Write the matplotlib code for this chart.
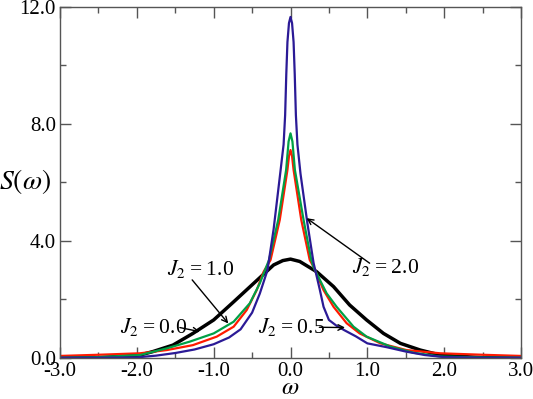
import matplotlib
matplotlib.use("Agg")
import matplotlib.pyplot as plt
from matplotlib.ticker import MultipleLocator, FormatStrFormatter

plt.rcParams['font.family'] = ['Liberation Serif', 'DejaVu Serif']
plt.rcParams['mathtext.fontset'] = 'stix'

# J2 = 0.0 (black, noisy)
w_j00 = [-3.0, -2.5, -1.96, -1.79, -1.53, -1.27, -1.0, -0.74, -0.48, -0.22, -0.1, 0.0,
         0.12, 0.34, 0.56, 0.77, 0.99, 1.21, 1.43, 1.69, 1.95, 2.5, 3.0]
s_j00 = [0.0, 0.01, 0.1, 0.22, 0.44, 0.84, 1.30, 1.92, 2.55, 3.18, 3.33, 3.38,
         3.30, 2.95, 2.44, 1.81, 1.30, 0.84, 0.50, 0.27, 0.1, 0.01, 0.0]

# J2 = 0.5 (red)
w_j05 = [-3.0, -2.5, -1.96, -1.61, -1.27, -0.96, -0.74, -0.57, -0.44, -0.35, -0.26, -0.14, -0.1,
         -0.04, -0.02, 0.0, 0.02, 0.04, 0.1, 0.14, 0.25, 0.3, 0.43, 0.56, 0.73, 0.90, 1.17,
         1.51, 1.95, 2.5, 3.0]
s_j05 = [0.07, 0.11, 0.16, 0.27, 0.44, 0.73, 1.07, 1.64, 2.32, 2.95, 3.35, 4.72, 5.4,
         6.43, 6.9, 7.11, 6.9, 6.43, 5.4, 4.72, 3.35, 3.12, 2.32, 1.75, 1.19, 0.84, 0.50,
         0.27, 0.16, 0.11, 0.07]

# J2 = 1.0 (green)
w_j10 = [-3.0, -2.5, -1.96, -1.61, -1.31, -1.0, -0.74, -0.53, -0.40, -0.28, -0.16, -0.057,
         -0.025, 0.0, 0.025, 0.057, 0.17, 0.27, 0.3, 0.47, 0.60, 0.82, 0.99, 1.30, 1.60,
         1.95, 2.5, 3.0]
s_j10 = [0.01, 0.03, 0.1, 0.33, 0.56, 0.84, 1.24, 1.87, 2.55, 3.35, 4.72, 6.43,
         7.4, 7.68, 7.4, 6.43, 4.72, 3.35, 3.1, 2.21, 1.75, 1.07, 0.73, 0.39, 0.18,
         0.05, 0.02, 0.01]

# J2 = 2.0 (blue)
w_j20 = [-3.0, -2.5, -2.0, -1.75, -1.5, -1.25, -1.0, -0.8, -0.65, -0.5, -0.4, -0.3, -0.22,
         -0.13, -0.09, -0.07, -0.055, -0.04, -0.02, 0.0, 0.02, 0.04, 0.055, 0.07, 0.09,
         0.13, 0.22, 0.3, 0.38, 0.43, 0.5, 0.6, 0.7, 0.85, 1.0, 1.25, 1.5, 1.75, 2.0, 2.5, 3.0]
s_j20 = [0.01, 0.01, 0.02, 0.08, 0.17, 0.29, 0.47, 0.70, 0.98, 1.55, 2.2, 3.0, 4.4,
         6.4, 7.3, 8.3, 9.7, 10.8, 11.45, 11.66, 11.45, 10.8, 9.7, 8.3, 7.3,
         6.3, 4.6, 3.25, 2.35, 1.75, 1.3, 1.1, 0.95, 0.74, 0.5, 0.37, 0.22, 0.1, 0.03, 0.01, 0.01]

x_ticks = [-3.0, -2.0, -1.0, 0.0, 1.0, 2.0, 3.0]
y_ticks = [0.0, 4.0, 8.0, 12.0]

fig = plt.figure(figsize=(5.33, 3.99), dpi=100)
ax = fig.add_axes([0.1126, 0.1028, 0.8649, 0.8797])

ax.plot(w_j00, s_j00, color='black', lw=2.5, solid_joinstyle='round')
ax.plot(w_j05, s_j05, color='#ff1a00', lw=1.6)
ax.plot(w_j10, s_j10, color='#00a046', lw=1.6)
ax.plot(w_j20, s_j20, color='#2b1a96', lw=1.6)

ax.set_xlim(-3.0, 3.0)
ax.set_ylim(0.0, 12.0)
ax.set_xticks(x_ticks)
ax.set_yticks(y_ticks)
ax.xaxis.set_minor_locator(MultipleLocator(0.5))
ax.yaxis.set_minor_locator(MultipleLocator(2.0))
ax.xaxis.set_major_formatter(FormatStrFormatter('%.1f'))
ax.yaxis.set_major_formatter(FormatStrFormatter('%.1f'))

axcol = '#555555'
for sp in ax.spines.values():
    sp.set_color(axcol)
    sp.set_linewidth(1.0)
ax.tick_params(which='both', direction='in', top=True, right=True, color=axcol, width=1.0,
               labelsize=15, pad=3)
ax.tick_params(which='major', length=8)
ax.tick_params(which='minor', length=4)

fig.text(290.5 / 533, 1 - 398.5 / 399, r'$\omega$', fontsize=18, ha='center', va='bottom')
fig.text(0.047, 0.545, r'$S(\omega)$', fontsize=20, ha='center', va='center')

arrow = dict(arrowstyle='->', lw=1.0, color='black', shrinkA=0, shrinkB=0,
             mutation_scale=10)
fs = 15.5
sp_ = '\u2009'
def lab(v):
    return r'$J_2$' + sp_ + '=' + sp_ + v

ax.text(-1.61, 2.84, lab('1.0'), fontsize=fs, ha='left', va='baseline')
ax.annotate('', xy=(-0.81, 1.18), xytext=(-1.28, 2.67), arrowprops=arrow)
ax.text(-2.22, 0.86, lab('0.0'), fontsize=fs, ha='left', va='baseline')
ax.annotate('', xy=(-1.18, 0.90), xytext=(-1.44, 1.04), arrowprops=arrow)
ax.text(-0.42, 0.87, lab('0.5'), fontsize=fs, ha='left', va='baseline')
ax.annotate('', xy=(0.71, 1.04), xytext=(0.375, 1.05), arrowprops=arrow)
ax.text(0.80, 2.9, lab('2.0'), fontsize=fs, ha='left', va='baseline')
ax.annotate('', xy=(0.21, 4.78), xytext=(1.03, 3.24), arrowprops=arrow)

fig.savefig('out.png', dpi=100)
